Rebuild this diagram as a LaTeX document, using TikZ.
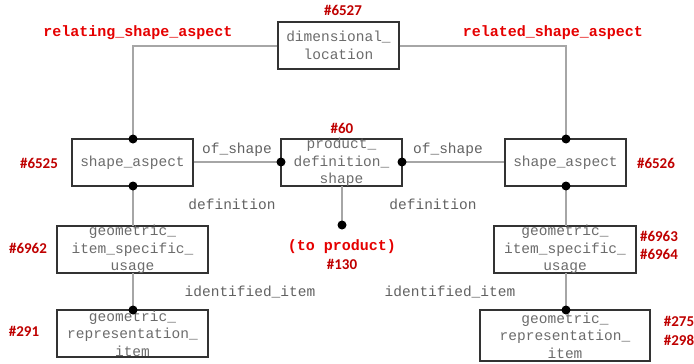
\documentclass[tikz,border=0pt]{standalone}
\usepackage{fontspec}
\setmonofont{Liberation Mono}
\newfontfamily\numfont{Carlito}
\begin{document}
\begin{tikzpicture}[x=1pt,y=-1pt,
  entity/.style={draw=black!80,line width=1.2pt,minimum width=#1,minimum height=47pt,inner sep=0pt},
  etext/.style={text=black!58,font=\ttfamily\fontsize{14.5}{17.5}\selectfont,align=center,inner sep=0pt},
  rolelbl/.style={text=black!62,font=\ttfamily\fontsize{14.5}{17.5}\selectfont,inner sep=0pt},
  attr/.style={text=red!90!black,font=\ttfamily\bfseries\fontsize{15}{18}\selectfont,inner sep=0pt},
  idlbl/.style={text=red!75!black,font=\numfont\bfseries\fontsize{15}{18}\selectfont,inner sep=0pt,align=center},
  link/.style={draw=black!35,line width=1.4pt},
  dot/.style={circle,fill=black,inner sep=0pt,minimum size=9pt}]
\useasboundingbox (0,0) rectangle (694,364);

% entity boxes
\node[entity=121pt] (dl) at (338.5,45.5) {};
\node[etext] at (dl.center) {dimensional\_\\location};
\node[entity=121pt] (sal) at (132.5,162.5) {};
\node[etext] at (sal.center) {shape\_aspect};
\node[entity=121pt] (pds) at (341.5,162.5) {};
\node[etext] at (pds.center) {product\_\\definition\_\\shape};
\node[entity=121pt] (sar) at (565.5,162.5) {};
\node[etext] at (sar.center) {shape\_aspect};
\node[entity=151pt] (gisl) at (132.5,249.5) {};
\node[etext] at (gisl.center) {geometric\_\\item\_specific\_\\usage};
\node[entity=142pt] (gisr) at (565,249.5) {};
\node[etext] at (gisr.center) {geometric\_\\item\_specific\_\\usage};
\node[entity=151pt] (gril) at (132.5,333.5) {};
\node[etext] at (gril.center) {geometric\_\\representation\_\\item};
\node[entity=170pt,minimum height=51pt] (grir) at (565,335.5) {};
\node[etext] at (grir.center) {geometric\_\\representation\_\\item};

% junction points
\coordinate (dlL) at (dl.west |- 0,46);
\coordinate (dlR) at (dl.east |- 0,46);
\coordinate (turnL) at (133,46);
\coordinate (turnR) at (566,46);
\coordinate (salT) at (133,139);
\coordinate (sarT) at (566,139);
\coordinate (salB) at (133,186);
\coordinate (sarB) at (566,186);
\coordinate (pdsL) at (281,162);
\coordinate (pdsR) at (402,162);
\coordinate (pdsB) at (342,186);
\coordinate (prodEnd) at (342,225);
\coordinate (gislT) at (133,226);
\coordinate (gisrT) at (566,226);
\coordinate (gislB) at (133,273);
\coordinate (gisrB) at (566,273);
\coordinate (grilT) at (133,310);
\coordinate (grirT) at (566,310);

% connectors
\draw[link] (dlL) -- (turnL) -- (salT);
\draw[link] (dlR) -- (turnR) -- (sarT);
\draw[link] (sal.east |- pdsL) -- (pdsL);
\draw[link] (pdsR) -- (sar.west |- pdsR);
\draw[link] (pdsB) -- (prodEnd);
\draw[link] (salB) -- (gislT);
\draw[link] (sarB) -- (gisrT);
\draw[link] (gislB) -- (grilT);
\draw[link] (gisrB) -- (grirT);

% relationship end dots
\foreach \p in {salT,sarT,salB,sarB,pdsL,pdsR,prodEnd,grilT,grirT}
  \node[dot] at (\p) {};

% role names
\node[rolelbl] (of1) at (237,150) {of\_shape};
\node[rolelbl] (of2) at (448,150) {of\_shape};
\node[rolelbl] (def1) at (232,204) {definition};
\node[rolelbl] (def2) at (433,204) {definition};
\node[rolelbl] (id1) at (250,292) {identified\_item};
\node[rolelbl] (id2) at (450,292) {identified\_item};

% attribute names
\node[attr] (rel1) at (138,33) {relating\_shape\_aspect};
\node[attr] (rel2) at (553,33) {related\_shape\_aspect};
\node[attr] (toprod) at (342,247) {(to product)};

% instance ids
\node[idlbl] (n6527) at (343,10) {\#6527};
\node[idlbl] (n60) at (342,128) {\#60};
\node[idlbl] (n6525) at (39,163) {\#6525};
\node[idlbl] (n6526) at (656,163) {\#6526};
\node[idlbl] (n6962) at (28,248) {\#6962};
\node[idlbl] (n130) at (342,264) {\#130};
\node[idlbl] (n6963) at (659,236) {\#6963};
\node[idlbl] (n6964) at (659,254) {\#6964};
\node[idlbl] (n291) at (24,331) {\#291};
\node[idlbl] (n275) at (679,321) {\#275};
\node[idlbl] (n298) at (679,340) {\#298};
\end{tikzpicture}
\end{document}
